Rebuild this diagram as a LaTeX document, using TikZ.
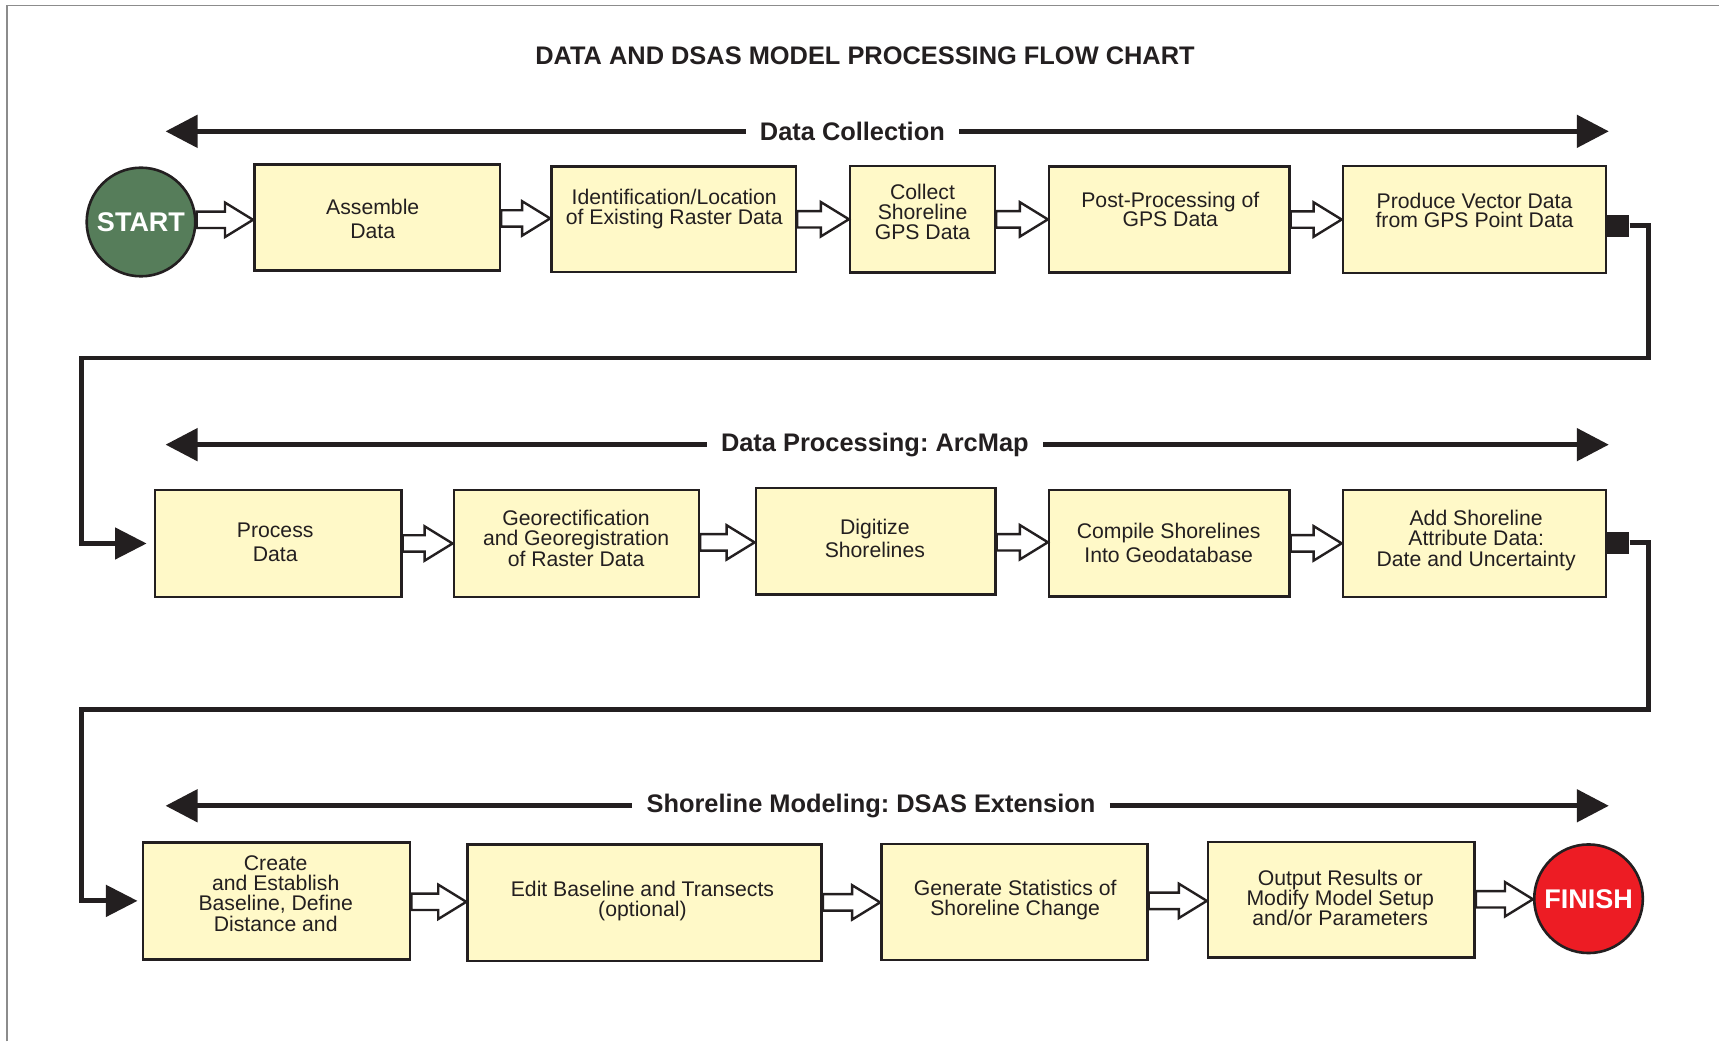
\documentclass[tikz,border=0pt]{standalone}
\usepackage{fontspec}
\setmainfont{Liberation Sans}
\usetikzlibrary{arrows.meta,calc}
\definecolor{ink}{HTML}{231F20}
\definecolor{boxfill}{HTML}{FFF9C8}
\definecolor{startgreen}{HTML}{567D5A}
\definecolor{finishred}{HTML}{ED1C24}
\definecolor{framegray}{HTML}{8C8C8C}
\lineskiplimit=-20pt
\frenchspacing
\tikzset{
  procbox/.style={draw=ink, fill=boxfill, line width=1.3pt, inner sep=0pt},
  boxtext/.style={text=ink, align=center, inner sep=0pt,
    font={\fontsize{10.6pt}{#1}\selectfont}},
  boxtext/.default=9.9pt,
  terminal/.style={circle, draw=ink, line width=1.3pt, minimum size=54.3pt, inner sep=0pt,
    text=white, font={\fontsize{13.5pt}{15pt}\selectfont\bfseries}},
  hollowarrow/.style={draw=ink, fill=white, line width=1.2pt, line join=miter},
  bigarrow/.style={draw=ink, line width=2.5pt, -{Triangle[length=16pt,width=16pt]}},
  section/.style={text=ink, inner xsep=7pt, inner ysep=0pt, font={\fontsize{12.7pt}{14pt}\selectfont\bfseries}},
  chart title/.style={text=ink, inner sep=0pt, font={\fontsize{12.7pt}{14pt}\selectfont\bfseries}},
  loopline/.style={draw=ink, line width=2.4pt, line join=miter, -{Triangle[length=15.8pt,width=15.5pt]}},
  endsquare/.style={fill=ink, draw=none, minimum size=11pt, inner sep=0pt},
}
\newcommand\procnode[5]{\node[procbox, minimum width={(#4-#2)*0.54815pt}, minimum height={(#5-#3)*0.54815pt}] (#1) at ({(#2+#4)/2},{(#3+#5)/2}) {};}
\newcommand\blockarrow[2]{%
  \path[hollowarrow] let \p1=(#1.east), \p2=(#2.west), \p3=($(#1.east)!.5!(#2.west)$) in
    (\x1,\y3+4.1pt) -- (\x2-14pt,\y3+4.1pt) -- (\x2-14pt,\y3+8.6pt) -- (\x2,\y3)
    -- (\x2-14pt,\y3-8.6pt) -- (\x2-14pt,\y3-4.1pt) -- (\x1,\y3-4.1pt) -- cycle;}
\begin{document}
\begin{tikzpicture}[x=0.54815pt, y=-0.54815pt]
\useasboundingbox (0,0) rectangle (1568,950);
% frame
\draw[framegray, line width=0.8pt] (6.4,950) -- (6.4,5) -- (1568,5);
% title
\node[chart title] (title) at (789,51) {DATA AND DSAS MODEL PROCESSING FLOW CHART};

% section arrows
\coordinate (dcL) at (151,119.8); \coordinate (dcR) at (1467.5,119.8);
\node[section] (dcLab) at (777.5,119.8) {Data Collection};
\draw[bigarrow] (dcLab.west) -- (dcL);
\draw[bigarrow] (dcLab.east) -- (dcR);

\coordinate (dpL) at (151,405.6); \coordinate (dpR) at (1467.5,405.6);
\node[section] (dpLab) at (798,405.6) {Data Processing: ArcMap};
\draw[bigarrow] (dpLab.west) -- (dpL);
\draw[bigarrow] (dpLab.east) -- (dpR);

\coordinate (smL) at (151,735); \coordinate (smR) at (1467.5,735);
\node[section] (smLab) at (794.5,735) {Shoreline Modeling: DSAS Extension};
\draw[bigarrow] (smLab.west) -- (smL);
\draw[bigarrow] (smLab.east) -- (smR);

% row 1
\node[terminal, fill=startgreen] (start) at (128.6,202.5) {START};
\procnode{b1}{232}{150}{456}{247}
\procnode{b2}{503}{152}{726}{248}
\procnode{b3}{775.5}{151.5}{907.5}{248.5}
\procnode{b4}{957}{152}{1176}{248.5}
\procnode{b5}{1225}{151.5}{1465}{249}
\node[boxtext=12pt] (t1) at (340,200) {Assemble\\Data};
\node[boxtext] (t2) at (615,191) {Identification/Location\\of Existing Raster Data};
\node[boxtext=10.1pt] (t3) at (841.5,193.5) {Collect\\Shoreline\\GPS Data};
\node[boxtext] (t4) at (1067.5,191) {Post-Processing of\\GPS Data};
\node[boxtext] (t5) at (1345,192) {Produce Vector Data\\from GPS Point Data};
\node[endsquare] (sq1) at (1476,206) {};

% row 2
\procnode{b6}{141.5}{447}{366}{544.5}
\procnode{b7}{414}{447}{637.5}{544.5}
\procnode{b8}{689.5}{445}{908}{542.5}
\procnode{b9}{957}{447}{1176}{544}
\procnode{b10}{1225}{447}{1465}{544.5}
\node[boxtext=12pt] (t6) at (251,495) {Process\\Data};
\node[boxtext=10.4pt] (t7) at (525.5,491) {Georectification\\and Georegistration\\of Raster Data};
\node[boxtext=11.5pt] (t8) at (798,491.5) {Digitize\\Shorelines};
\node[boxtext=12pt] (t9) at (1066,495) {Compile Shorelines\\Into Geodatabase};
\node[boxtext=10.4pt] (t10) at (1346.5,493) {Add Shoreline\\Attribute Data:\\Date and Uncertainty};
\node[endsquare] (sq2) at (1476,495) {};

% row 3
\procnode{b11}{130.5}{768.5}{374}{875}
\procnode{b12}{426.5}{770.5}{749.5}{876.5}
\procnode{b13}{804}{770}{1046.5}{875.5}
\procnode{b14}{1102}{768}{1345}{873.5}
\node[boxtext=10.2pt] (t11) at (251.5,815) {Create\\and Establish\\Baseline, Define\\Distance and};
\node[boxtext] (t12) at (586,822) {Edit Baseline and Transects\\(optional)};
\node[boxtext] (t13) at (926,821) {Generate Statistics of\\Shoreline Change};
\node[boxtext] (t14) at (1222.5,819) {Output Results or\\Modify Model Setup\\and/or Parameters};
\node[terminal, fill=finishred] (finish) at (1449,819.8) {FINISH};

% hollow block arrows
\blockarrow{start}{b1}
\blockarrow{b1}{b2}
\blockarrow{b2}{b3}
\blockarrow{b3}{b4}
\blockarrow{b4}{b5}
\blockarrow{b6}{b7}
\blockarrow{b7}{b8}
\blockarrow{b8}{b9}
\blockarrow{b9}{b10}
\blockarrow{b11}{b12}
\blockarrow{b12}{b13}
\blockarrow{b13}{b14}
\blockarrow{b14}{finish}

% loop connectors
\coordinate (r1a) at (1504,326.5); \coordinate (r1b) at (74,326.5);
\coordinate (r2a) at (1504,647.5); \coordinate (r2b) at (74,647.5);
\draw[loopline, shorten >=3.6pt] (sq1.east) -| (r1a) -- (r1b) |- (b6.west);
\draw[loopline, shorten >=2.1pt] (sq2.east) -| (r2a) -- (r2b) |- (b11.west);
\end{tikzpicture}
\end{document}
